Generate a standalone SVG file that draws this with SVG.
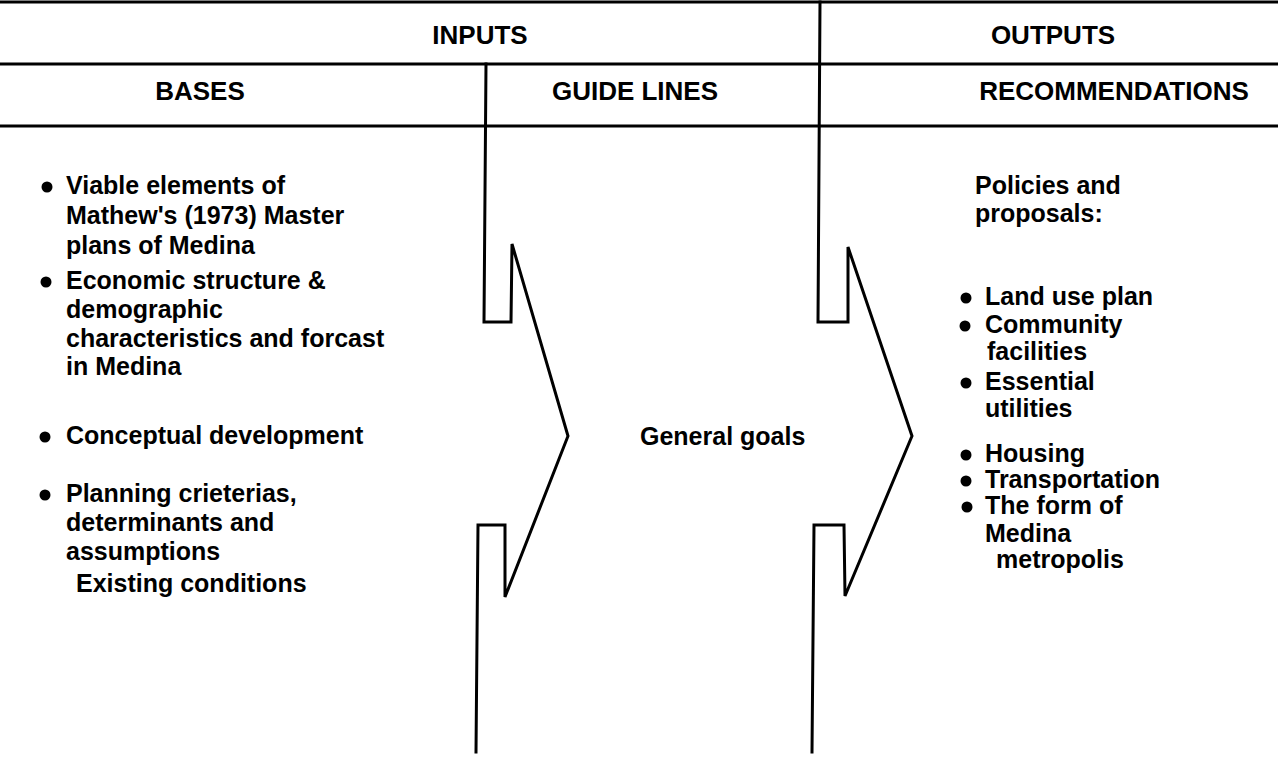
<svg xmlns="http://www.w3.org/2000/svg" width="1278" height="762" viewBox="0 0 1278 762">
<style>
.t{font-family:"Liberation Sans",Arial,sans-serif;font-weight:bold;font-size:25px;fill:#000}
.h{font-family:"Liberation Sans",Arial,sans-serif;font-weight:bold;font-size:26px;fill:#000;text-anchor:middle}
.ln{stroke:#000;stroke-width:3;fill:none;stroke-linejoin:miter;stroke-linecap:square}
.dot{fill:#000}
</style>
<rect width="1278" height="762" fill="#fff"/>
<g id="grid">
<line class="ln" x1="0" y1="2" x2="1278" y2="2"/>
<line class="ln" x1="0" y1="64" x2="1278" y2="64"/>
<line class="ln" x1="0" y1="126" x2="1278" y2="126"/>
</g>
<g id="connectors">
<path class="ln" d="M486,64 L484,322 L511,322 L512,244 L568,436 L505,597 L505,525 L478,525 L476,752"/>
<path class="ln" d="M820,2 L818,322 L848,322 L848,247 L912,436 L845,596 L844,525 L814,525 L812,752"/>
</g>
<g id="header-inputs"><text class="h" x="480" y="44">INPUTS</text></g>
<g id="header-outputs"><text class="h" x="1053" y="44">OUTPUTS</text></g>
<g id="header-bases"><text class="h" x="200" y="100">BASES</text></g>
<g id="header-guidelines"><text class="h" x="635" y="100">GUIDE LINES</text></g>
<g id="header-recommendations"><text class="h" x="1114" y="100">RECOMMENDATIONS</text></g>
<g id="bases">
<circle class="dot" cx="47" cy="187" r="5.5"/>
<text class="t" x="66" y="194">Viable elements of</text>
<text class="t" x="66" y="224">Mathew's (1973) Master</text>
<text class="t" x="66" y="254">plans of Medina</text>
<circle class="dot" cx="46" cy="282" r="5.5"/>
<text class="t" x="66" y="289">Economic structure &amp;</text>
<text class="t" x="66" y="318">demographic</text>
<text class="t" x="66" y="347">characteristics and forcast</text>
<text class="t" x="66" y="375">in Medina</text>
<circle class="dot" cx="45" cy="437" r="5.5"/>
<text class="t" x="66" y="444">Conceptual development</text>
<circle class="dot" cx="45" cy="495" r="5.5"/>
<text class="t" x="66" y="502">Planning crieterias,</text>
<text class="t" x="66" y="531">determinants and</text>
<text class="t" x="66" y="560">assumptions</text>
<text class="t" x="76" y="592">Existing conditions</text>
</g>
<g id="guidelines"><text class="t" x="640" y="445">General goals</text></g>
<g id="recommendations">
<text class="t" x="975" y="194">Policies  and</text>
<text class="t" x="975" y="222">proposals:</text>
<circle class="dot" cx="966" cy="298" r="5.5"/>
<text class="t" x="985" y="305">Land use plan</text>
<circle class="dot" cx="965" cy="326" r="5.5"/>
<text class="t" x="985" y="333">Community</text>
<text class="t" x="987" y="360">facilities</text>
<circle class="dot" cx="966" cy="383" r="5.5"/>
<text class="t" x="985" y="390">Essential</text>
<text class="t" x="985" y="417">utilities</text>
<circle class="dot" cx="966" cy="455" r="5.5"/>
<text class="t" x="985" y="462">Housing</text>
<circle class="dot" cx="966" cy="481" r="5.5"/>
<text class="t" x="985" y="488">Transportation</text>
<circle class="dot" cx="967" cy="507" r="5.5"/>
<text class="t" x="985" y="514">The form of</text>
<text class="t" x="985" y="542">Medina</text>
<text class="t" x="996" y="568">metropolis</text>
</g>
</svg>
